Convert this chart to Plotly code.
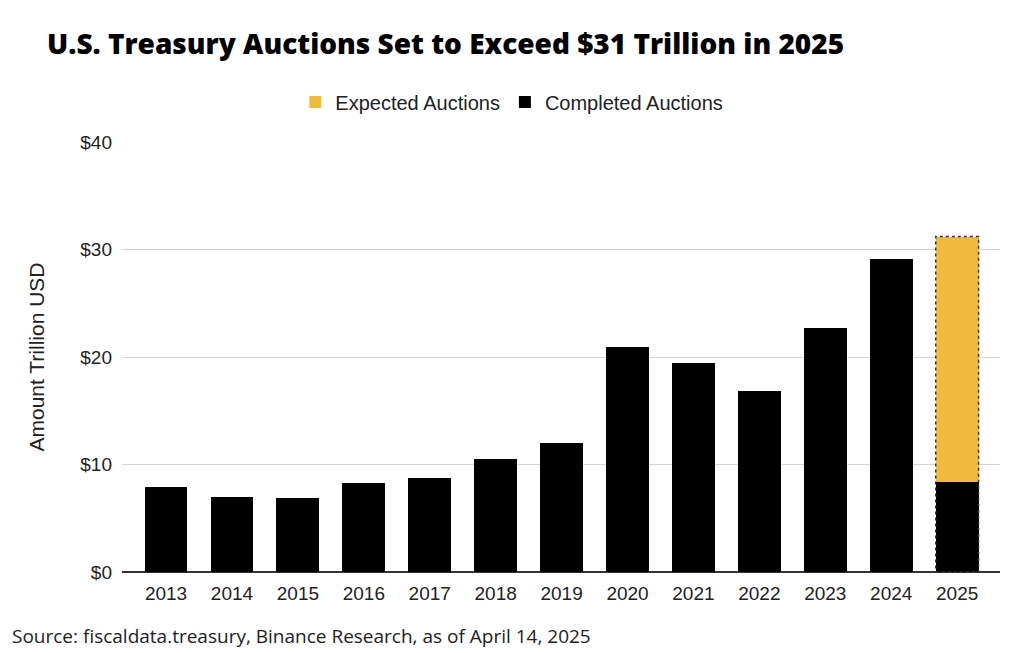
import plotly.graph_objects as go

years = ["2013", "2014", "2015", "2016", "2017", "2018", "2019",
         "2020", "2021", "2022", "2023", "2024", "2025"]
completed = [7.9, 7.0, 6.9, 8.3, 8.7, 10.5, 12.0, 20.9, 19.4, 16.8, 22.7, 29.1, 8.4]
expected = [0, 0, 0, 0, 0, 0, 0, 0, 0, 0, 0, 0, 22.8]
y_ticks = [0, 10, 20, 30, 40]
y_labels = ["$0", "$10", "$20", "$30", "$40"]

gold = "#f0bb3d"
bar_w = 0.65

fig = go.Figure()
fig.add_trace(go.Bar(x=years, y=completed, name="Completed Auctions",
                     marker=dict(color="black", line=dict(width=0)),
                     width=bar_w, legendrank=2))
fig.add_trace(go.Bar(x=years, y=expected, name="Expected Auctions",
                     marker=dict(color=gold, line=dict(width=0)),
                     width=bar_w, legendrank=1))

# dotted outline round the 2025 bar
i = len(years) - 1
fig.add_shape(type="rect", xref="x", yref="y",
              x0=i - bar_w / 2, x1=i + bar_w / 2,
              y0=0, y1=completed[i] + expected[i],
              line=dict(color="#333333", width=1.5, dash="dot"))

fig.update_layout(
    barmode="stack",
    width=1024, height=653,
    margin=dict(l=122, r=24, t=142, b=81),
    plot_bgcolor="white", paper_bgcolor="white",
    font=dict(family="Liberation Sans, Arial", color="#222222", size=19),
    title=dict(text="U.S. Treasury Auctions Set to Exceed $31 Trillion in 2025",
               x=0.046, xanchor="left", y=0.932, yanchor="middle",
               font=dict(family="Open Sans", size=28, color="black", weight=800)),
    legend=dict(orientation="h", x=0.444, xanchor="center", y=1.093, yanchor="middle",
                font=dict(size=20), traceorder="normal"),
    showlegend=True,
    bargap=0.35,
)
fig.update_xaxes(type="category", range=[-0.668, 12.65], showgrid=False,
                 ticks="", tickfont=dict(size=19), ticklabelstandoff=8)
fig.update_yaxes(range=[0, 40], tickvals=y_ticks, ticktext=y_labels,
                 gridcolor="#d4d4d4", gridwidth=1, zeroline=True,
                 zerolinecolor="#333333", zerolinewidth=1.5,
                 ticks="", ticklen=0, tickfont=dict(size=19), ticklabelstandoff=9,
                 title=dict(text="Amount Trillion USD", font=dict(size=21), standoff=29))

fig.add_annotation(text="Source: fiscaldata.treasury, Binance Research, as of April 14, 2025",
                   xref="paper", yref="paper", x=-0.128, xanchor="left",
                   y=-0.149, yanchor="middle", showarrow=False,
                   font=dict(family="Open Sans", size=19, color="#222222"))

fig.write_html("out.html", config={"displayModeBar": False},
               post_script="document.body.style.margin='0';")
